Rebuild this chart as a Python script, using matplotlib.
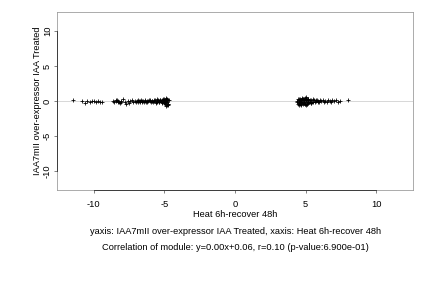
import matplotlib
matplotlib.use("Agg")
import matplotlib.pyplot as plt

left_x = [-11.50, -10.80, -10.62, -10.45, -10.30, -10.15, -10.00, -9.85, -9.70, -9.55,
          -9.40, -8.65, -8.55, -8.45, -8.40, -8.35, -8.30, -8.25, -8.20, -8.15,
          -8.10, -8.05, -7.95, -7.80, -7.70, -7.60, -7.50, -7.40, -7.30, -7.20,
          -7.10, -7.00, -6.95, -6.90, -6.85, -6.80, -6.75, -6.70, -6.65, -6.60,
          -6.55, -6.50, -6.45, -6.40, -6.35, -6.30, -6.25, -6.20, -6.15, -6.10,
          -6.05, -6.00, -5.95, -5.90, -5.85, -5.80, -5.75, -5.70, -5.65, -5.60,
          -5.55, -5.50, -5.45, -5.40, -5.35, -5.30, -5.25, -5.20, -5.15, -5.10,
          -5.05, -5.00, -4.98, -4.95, -4.93, -4.90, -4.88, -4.85, -4.83, -4.80,
          -4.78, -4.75, -4.72, -4.70, -5.60, -5.50, -5.40, -5.30, -5.20, -5.10,
          -5.00, -4.90, -4.85, -4.80, -4.75, -4.95, -5.05, -5.15, -4.82, -4.77]
left_y = [0.15, -0.05, -0.30, 0.05, -0.10, -0.05, 0.00, -0.10, -0.05, -0.15,
          -0.20, 0.05, -0.15, 0.10, -0.05, 0.15, -0.20, 0.00, -0.10, -0.25,
          0.05, -0.15, 0.25, -0.10, -0.35, 0.05, -0.25, -0.05, 0.10, -0.15,
          0.00, -0.10, 0.05, -0.20, 0.10, -0.05, -0.15, 0.00, 0.10, -0.10,
          -0.05, 0.05, -0.15, 0.00, 0.10, -0.10, 0.05, -0.20, 0.00, 0.10,
          -0.05, 0.15, -0.10, 0.00, 0.05, -0.15, 0.10, -0.05, 0.20, -0.10,
          0.05, -0.20, 0.15, 0.00, -0.10, 0.20, -0.05, 0.10, -0.25, 0.15,
          -0.10, 0.25, -0.30, 0.10, -0.45, 0.30, -0.20, 0.05, -0.60, 0.35,
          -0.15, 0.20, -0.35, 0.10, -0.30, 0.25, -0.20, 0.15, -0.10, 0.30,
          -0.25, 0.40, -0.75, 0.15, -0.40, -0.05, 0.05, -0.15, 0.20, -0.50]

right_x = [4.40, 4.42, 4.45, 4.48, 4.50, 4.52, 4.55, 4.58, 4.60, 4.62,
           4.65, 4.68, 4.70, 4.72, 4.75, 4.78, 4.80, 4.82, 4.85, 4.88,
           4.90, 4.92, 4.95, 4.98, 5.00, 5.02, 5.05, 5.08, 5.10, 5.12,
           5.15, 5.18, 5.20, 5.25, 5.30, 5.35, 5.40, 5.45, 5.50, 5.55,
           5.60, 5.65, 5.70, 5.75, 5.80, 5.85, 5.90, 5.95, 6.00, 6.10,
           6.20, 6.30, 6.40, 6.50, 6.60, 6.70, 6.80, 6.90, 7.00, 7.15,
           7.30, 7.45, 8.00, 4.50, 4.60, 4.70, 4.80, 4.90, 5.00, 5.10,
           5.20, 5.30, 4.55, 4.75, 4.95, 5.15, 5.35, 4.65, 4.85, 5.05]
right_y = [0.05, -0.20, 0.25, -0.35, 0.10, -0.15, 0.30, -0.40, 0.00, 0.20,
           -0.30, 0.15, -0.55, 0.35, -0.10, 0.25, -0.45, 0.10, -0.25, 0.30,
           -0.15, 0.40, -0.35, 0.20, -0.50, 0.15, 0.55, -0.20, 0.30, -0.40,
           0.10, -0.25, 0.35, -0.15, 0.20, -0.30, 0.15, -0.10, 0.25, -0.20,
           0.10, -0.15, 0.20, -0.05, 0.15, -0.20, 0.05, -0.10, 0.20, -0.05,
           0.10, -0.15, 0.05, -0.10, 0.15, 0.00, -0.10, 0.10, -0.05, 0.10,
           -0.10, 0.05, 0.15, -0.25, 0.35, -0.40, 0.25, -0.30, 0.20, -0.35,
           0.30, -0.15, -0.60, 0.45, -0.45, 0.20, -0.25, 0.15, -0.30, 0.25]

ticks = [-10, -5, 0, 5, 10]
x_label = "Heat 6h-recover 48h"
y_label = "IAA7mII over-expressor IAA Treated"
caption1 = "yaxis: IAA7mII over-expressor IAA Treated, xaxis: Heat 6h-recover 48h"
caption2 = "Correlation of module: y=0.00x+0.06, r=0.10 (p-value:6.900e-01)"

plt.rcParams['font.family'] = ['Liberation Sans', 'DejaVu Sans']
plt.rcParams['axes.unicode_minus'] = False
fs = 9.3
fig = plt.figure(figsize=(6, 4), dpi=72)
ax = fig.add_axes([0.132, 0.34, 0.824, 0.618])
ax.axhline(0, color='#d8d8d8', lw=1.0, zorder=1)
ax.scatter(left_x + right_x, left_y + right_y, marker='+', s=16, c='black',
           linewidths=0.8, zorder=3)
ax.set_xlim(-12.6, 12.6)
ax.set_ylim(-12.7, 12.7)
ax.set_xticks(ticks)
ax.set_yticks(ticks)
ax.tick_params(labelsize=fs, length=3, width=0.6, color='#333333')
ax.tick_params(axis='x', pad=7)
ax.tick_params(axis='y', pad=2)
for lab in ax.get_yticklabels():
    lab.set_rotation(90)
    lab.set_va('center')
for s in ax.spines.values():
    s.set_color('#999999')
    s.set_linewidth(0.8)
# dark axis lines spanning first to last tick (R style)
ax.plot([ticks[0], ticks[-1]], [0, 0], transform=ax.get_xaxis_transform(),
        color='#333333', lw=0.9, clip_on=False, zorder=5)
ax.plot([0, 0], [ticks[0], ticks[-1]], transform=ax.get_yaxis_transform(),
        color='#333333', lw=0.9, clip_on=False, zorder=5)
ax.set_xlabel(x_label, fontsize=fs, labelpad=1)
ax.set_ylabel(y_label, fontsize=fs, labelpad=1)
fig.text(0.545, 1 - 231 / 288, caption1, ha='center', va='center', fontsize=fs)
fig.text(0.545, 1 - 248 / 288, caption2, ha='center', va='center', fontsize=fs)
fig.savefig("out.png", dpi=72)
